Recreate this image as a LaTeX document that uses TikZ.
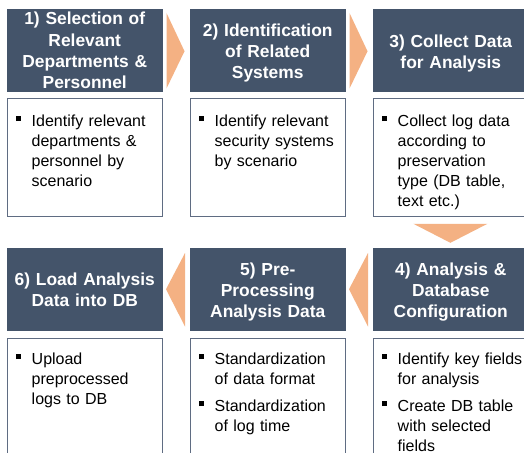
\documentclass[tikz,border=0pt]{standalone}
\usepackage{fontspec}
\setmainfont{Liberation Sans}
\usetikzlibrary{calc}
\definecolor{hdrc}{HTML}{44546A}
\definecolor{arrc}{HTML}{F4B183}
\definecolor{bdrc}{HTML}{5F6C82}
\newcommand\bitem[1]{\par\noindent\hangindent=15.5pt\hangafter=1\makebox[15.5pt][l]{\raisebox{5.5pt}{\rule{4.8pt}{4.8pt}}}#1\par}
\newcommand\itemgap{\vspace{7pt}}
\begin{document}
\begin{tikzpicture}[x=1pt,y=-1pt,
  hdr/.style={fill=hdrc, draw=hdrc, line width=0.5pt, minimum width=155pt, minimum height=82pt, anchor=north west, inner sep=0pt},
  bodybox/.style={draw=bdrc, line width=0.8pt, fill=white, minimum width=155pt, anchor=north west, inner sep=0pt},
  htext/.style={text=white, font=\bfseries\fontsize{17.4}{21.2}\selectfont, align=center, text width=152pt, inner sep=0pt},
  btext/.style={anchor=north west, inner sep=0pt, text width=150pt, align=left, font=\fontsize{16}{20}\selectfont},
  chev/.style={fill=arrc}]
\useasboundingbox (0,0) rectangle (524,452);
\clip (0,0) rectangle (524,452);
\fill[white] (0,0) rectangle (524,452);
% header boxes
\node[hdr] (h1) at (7,9) {};
\node[hdr] (h2) at (190,9) {};
\node[hdr] (h3) at (373,9) {};
\node[hdr] (h6) at (7,248) {};
\node[hdr] (h5) at (190,248) {};
\node[hdr] (h4) at (373,248) {};
% body boxes
\node[bodybox, minimum height=118pt] (b1) at (7,98) {};
\node[bodybox, minimum height=118pt] (b2) at (190,98) {};
\node[bodybox, minimum height=118pt] (b3) at (373,98) {};
\node[bodybox, minimum height=130pt] (b6) at (7,338) {};
\node[bodybox, minimum height=130pt] (b5) at (190,338) {};
\node[bodybox, minimum height=130pt] (b4) at (373,338) {};
% chevrons
\fill[chev] ($(h1.north east)+(4,4)$) -- ($(h1.east)+(22,1)$) -- ($(h1.south east)+(4,-3)$) -- cycle;
\fill[chev] ($(h2.north east)+(4,4)$) -- ($(h2.east)+(22,1)$) -- ($(h2.south east)+(4,-3)$) -- cycle;
\fill[chev] ($(b3.south)+(-37.5,7)$) -- ($(b3.south)+(36.5,7)$) -- ($(b3.south)+(-0.5,26)$) -- cycle;
\fill[chev] ($(h4.north west)+(-5,5)$) -- ($(h4.south west)+(-5,-4)$) -- ($(h4.west)+(-24,0)$) -- cycle;
\fill[chev] ($(h5.north west)+(-5,5)$) -- ($(h5.south west)+(-5,-4)$) -- ($(h5.west)+(-24,0)$) -- cycle;
% header texts
\node[htext] (t1) at ($(h1.center)+(0,0.3)$) {1) Selection of\\Relevant\\Departments \&\\Personnel};
\node[htext] (t2) at ($(h2.center)+(0,3)$) {2) Identification\\of Related\\Systems};
\node[htext] (t3) at ($(h3.center)+(0,3)$) {3) Collect Data\\for Analysis};
\node[htext] (t4) at ($(h4.center)+(0,3)$) {4) Analysis \&\\Database\\Configuration};
\node[htext] (t5) at ($(h5.center)+(0,3)$) {5) Pre-\\Processing\\Analysis Data};
\node[htext] (t6) at ($(h6.center)+(0,0.3)$) {6) Load Analysis\\Data into DB};
% body texts
\node[btext] (x1) at ($(b1.north west)+(9,8.5)$) {\bitem{Identify relevant\newline departments \&\newline personnel by\newline scenario}};
\node[btext] (x2) at ($(b2.north west)+(9,8.5)$) {\bitem{Identify relevant\newline security systems\newline by scenario}};
\node[btext] (x3) at ($(b3.north west)+(9,8.5)$) {\bitem{Collect log data\newline according to\newline preservation\newline type (DB table,\newline text etc.)}};
\node[btext] (x6) at ($(b6.north west)+(9,6.5)$) {\bitem{Upload\newline preprocessed\newline logs to DB}};
\node[btext] (x5) at ($(b5.north west)+(9,6.5)$) {\bitem{Standardization\newline of data format}\itemgap\bitem{Standardization\newline of log time}};
\node[btext] (x4) at ($(b4.north west)+(9,6.5)$) {\bitem{Identify key fields\newline for analysis}\itemgap\bitem{Create DB table\newline with selected\newline fields}};
\end{tikzpicture}
\end{document}
